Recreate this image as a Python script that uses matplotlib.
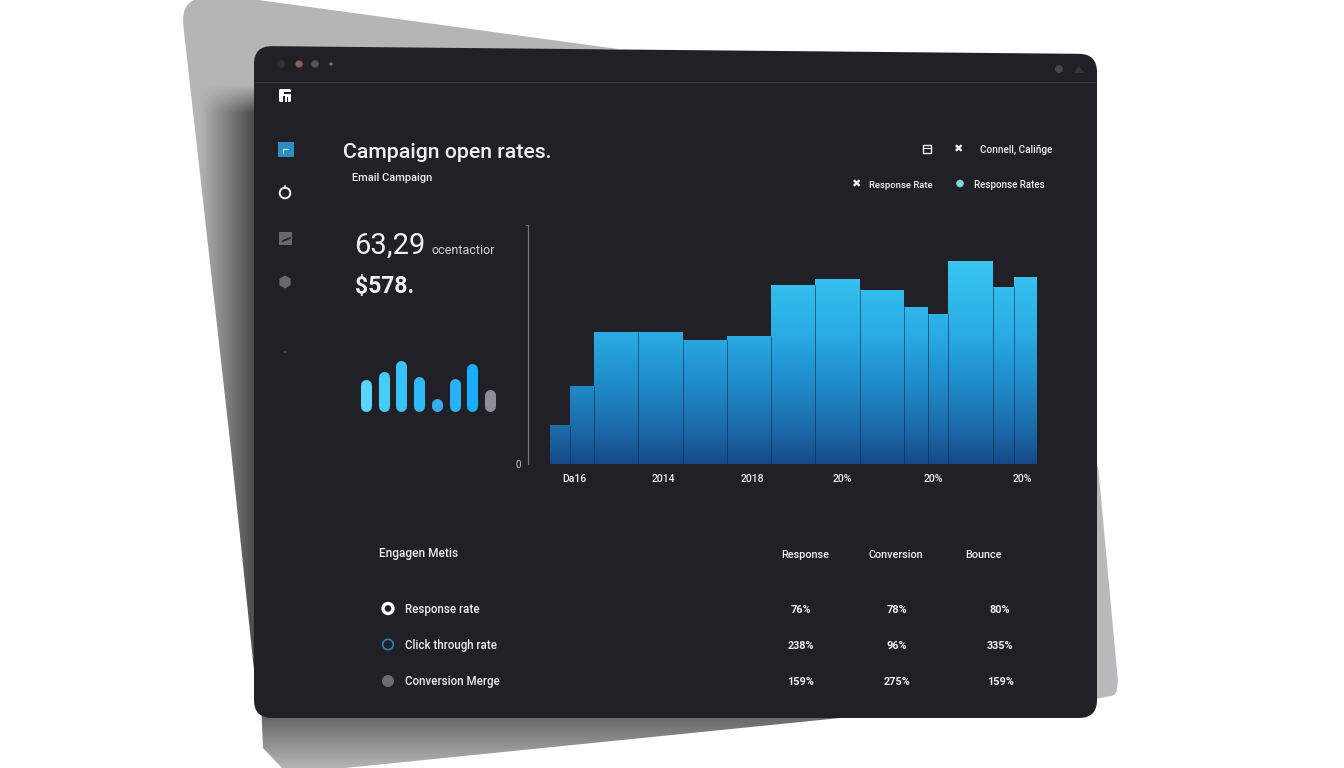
import numpy as np
import matplotlib
matplotlib.use("Agg")
import matplotlib.pyplot as plt
from matplotlib.colors import LinearSegmentedColormap
from matplotlib.patches import Circle, Polygon, PathPatch, Rectangle, RegularPolygon
from matplotlib.path import Path

plt.rcParams['font.family'] = ['Roboto', 'DejaVu Sans']

# main chart
bar_widths = [0.45, 0.55, 1, 1, 1, 1, 1, 1, 1, 0.55, 0.45, 1, 0.48, 0.52]
bar_values = [16.3, 32.6, 55.1, 55.1, 51.9, 53.4, 74.9, 77.3, 72.7, 65.8, 62.6, 84.9, 73.9, 78.1]
tick_pos = [0.55, 2.56, 4.57, 6.6, 8.66, 10.67]
tick_labels = ['Da16', '2014', '2018', '20%', '20%', '20%']

# small bars on the left
mini_values = [31.7, 40, 51.7, 35, 13.4, 32.7, 48.4, 22.4]
mini_colors = ['#5cd5fb', '#45cdfa', '#38c4fa', '#2fb9f8', '#35aef0', '#2ab2f6', '#18aefb', '#8f8e98']

# table
table_metrics = ['Response rate', 'Click through rate', 'Conversion Merge']
table_columns = ['Response', 'Conversion', 'Bounce']
col_response = ['76%', '238%', '159%']
col_conversion = ['78%', '96%', '275%']
col_bounce = ['80%', '335%', '159%']

CARD = '#212026'
TXT = '#f0f0f2'

W, H = 1344, 768


def rounded_poly(pts, radii):
    # polygon with quadratic rounded corners, one radius per corner
    pts = np.array(pts, dtype=float)
    n = len(pts)
    if np.isscalar(radii):
        radii = [radii] * n
    verts, codes = [], []
    for i in range(n):
        p, a, b = pts[i], pts[i - 1], pts[(i + 1) % n]
        r = max(radii[i], 0.01)
        p1 = p + (a - p) / np.linalg.norm(a - p) * r
        p2 = p + (b - p) / np.linalg.norm(b - p) * r
        verts += [p1, p, p2]
        codes += [Path.LINETO if i else Path.MOVETO, Path.CURVE3, Path.CURVE3]
    verts.append(verts[0])
    codes.append(Path.CLOSEPOLY)
    return Path(verts, codes)


fig = plt.figure(figsize=(W / 100, H / 100), dpi=100, facecolor='white')
bg = fig.add_axes([0, 0, 1, 1])
bg.set_xlim(0, W)
bg.set_ylim(H, 0)
bg.axis('off')

# grey sheet behind the card, dark shadow towards the card
xx, yy = np.meshgrid(np.arange(W), np.arange(H))
fade_y = np.clip((yy - 84) / 28, 0, 1)
fade_x = np.clip((xx - 198) / 56, 0, 1)
shade = 0.71 - 0.42 * fade_y * fade_x
sheet = bg.imshow(shade, cmap='gray', vmin=0, vmax=1, extent=(0, W, H, 0), aspect='auto', zorder=1)
sheet.set_clip_path(PathPatch(rounded_poly([(180, -4), (258, 0), (618, 49), (300, 60), (254, 670), (231, 450)],
                                           [30, 0, 0, 0, 0, 0]),
                              transform=bg.transData))

# grey strip under the card
yy2 = np.clip((yy - 718) / 50, 0, 1)
under = bg.imshow(0.41 + 0.3 * yy2, cmap='gray', vmin=0, vmax=1, extent=(0, W, H, 0), aspect='auto', zorder=1)
under.set_clip_path(PathPatch(Path([(261, 700), (263, 748), (282, 768), (345, 768), (850, 717), (261, 700)], closed=True),
                              transform=bg.transData))

# light sheet on the right
bg.add_patch(PathPatch(rounded_poly([(1090, 460), (1098, 465), (1118, 682), (1116, 695), (1090, 700)], 5),
                       fc='#b9b8bb', ec='none', zorder=1))

# card
bg.add_patch(PathPatch(rounded_poly([(254, 46), (1097, 54), (1097, 718), (254, 718)], 18),
                       fc=CARD, ec='none', zorder=2))
bg.plot([255, 1096], [82, 82], color='#38373d', lw=0.9, zorder=3)

# window buttons
for x, r, c in [(281, 4, '#323137'), (299, 3.6, '#87604f'), (315, 3.8, '#55545a'), (331, 1.6, '#2f9a8a'),
                (1059, 4, '#47464c')]:
    bg.add_patch(Circle((x, 64 if x < 1000 else 69), r, fc=c, ec='none', zorder=3))
bg.add_patch(Polygon([(1074, 73), (1079, 66), (1084, 73)], fc='#37363c', ec='none', zorder=3))

# logo
bg.add_patch(PathPatch(rounded_poly([(279, 89), (291, 89), (291, 102), (279, 102)], 1.5), fc='white', ec='none', zorder=3))
bg.add_patch(Rectangle((284, 92), 7, 1.6, fc=CARD, zorder=4))
bg.add_patch(Rectangle((283, 96), 2, 6, fc=CARD, zorder=4))
bg.add_patch(Rectangle((287, 97), 1.4, 5, fc=CARD, zorder=4))

# sidebar
bg.add_patch(Rectangle((278, 142), 16, 15, fc='#2b8fc4', ec='none', zorder=3))
bg.plot([283, 283, 288], [153, 149, 149], color='#cfe9f5', lw=0.8, zorder=4)
bg.add_patch(Circle((285, 193), 5.3, fc='none', ec='#f2f2f2', lw=1.4, zorder=3))
bg.plot([285, 285], [186, 188], color='#f2f2f2', lw=1.2, zorder=3)
bg.add_patch(Rectangle((279, 232), 13, 13, fc='#68676b', ec='none', zorder=3))
bg.plot([283, 290], [241, 238], color=CARD, lw=1.2, zorder=4)
bg.add_patch(RegularPolygon((285, 282), 6, radius=6.5, fc='#68676b', ec='none', zorder=3))
bg.add_patch(Circle((285, 352), 1.2, fc='#4a494f', ec='none', zorder=3))

# header text
bg.text(343, 153, 'Campaign open rates.', color=TXT, fontsize=15.3, fontweight='medium', va='center', zorder=5)
bg.text(352, 178, 'Email Campaign', color=TXT, fontsize=8, fontweight='medium', va='center', zorder=5)
bg.text(354, 246, '63,29', color=TXT, fontsize=21, va='center', zorder=5)
bg.text(431, 250, 'ocentactior', color='#d4d4d8', fontsize=9, va='center', zorder=5)
bg.text(354.5, 287, '$578.', color=TXT, fontsize=16.5, fontweight='bold', va='center', zorder=5)

# top right legend
bg.add_patch(Rectangle((922.5, 145), 8.5, 8, fc='none', ec=TXT, lw=1, zorder=5))
bg.plot([922.5, 931], [148, 148], color=TXT, lw=0.8, zorder=5)
bg.text(958, 149, '✖', color=TXT, fontsize=8, ha='center', va='center', family=['DejaVu Sans'], zorder=5)
bg.text(980, 150, 'Connell, Caliñge', color=TXT, fontsize=7.2, fontweight='medium', va='center', zorder=5)
bg.text(856, 184, '✖', color=TXT, fontsize=8, ha='center', va='center', family=['DejaVu Sans'], zorder=5)
bg.text(869, 185, 'Response Rate', color=TXT, fontsize=6.8, fontweight='medium', va='center', zorder=5)
bg.add_patch(Circle((960, 183.5), 3.8, fc='#7fd8d8', ec='none', zorder=5))
bg.text(974, 185, 'Response Rates', color=TXT, fontsize=7, fontweight='medium', va='center', zorder=5)

# table text
bg.text(379, 554, 'Engagen Metis', color=TXT, fontsize=8.6, fontweight='medium', va='center', zorder=5)
for x, name in zip([805, 896, 984], table_columns):
    bg.text(x, 554.5, name, color=TXT, fontsize=7.8, fontweight='medium', ha='center', va='center', zorder=5)
row_y = [610, 646, 682]
for y, name in zip(row_y, table_metrics):
    bg.text(405, y, name, color=TXT, fontsize=8.3, fontweight='medium', va='center', zorder=5)
for x, col in zip([801, 897, 1000], [col_response, col_conversion, col_bounce]):
    for y, val in zip(row_y, col):
        bg.text(x, y, val, color=TXT, fontsize=7.8, fontweight='bold', ha='center', va='center', zorder=5)
bg.add_patch(Circle((388, 608.5), 5, fc=CARD, ec='white', lw=2.4, zorder=5))
bg.add_patch(Circle((388, 644.5), 5.2, fc='none', ec='#2a7fb8', lw=1.2, zorder=5))
bg.add_patch(Circle((388, 681), 6, fc='#6d6c72', ec='none', zorder=5))

# main bar chart
x0, x1, ytop, ybot = 528, 1037, 225, 464
ax = fig.add_axes([x0 / W, 1 - ybot / H, (x1 - x0) / W, (ybot - ytop) / H])
ax.patch.set_alpha(0)
unit = (x1 - 549.6) / sum(bar_widths)

lefts = np.concatenate([[0], np.cumsum(bar_widths)[:-1]])
bars = ax.bar(lefts, bar_values, bar_widths, align='edge', facecolor='none', edgecolor='none', zorder=3)

grad = LinearSegmentedColormap.from_list('bars', [(0, '#164a86'), (0.16, '#1b6aa8'), (0.42, '#2190cf'),
                                                  (0.62, '#29ace4'), (1, '#3cc9f6')])
im = ax.imshow(np.linspace(1, 0, 256)[:, None], cmap=grad, extent=(lefts[0], sum(bar_widths), 0, 88),
               aspect='auto', zorder=2)
ax.set_xlim(-(549.6 - x0) / unit, sum(bar_widths))
ax.set_ylim(0, 100)
clip = Path.make_compound_path(*[b.get_path().transformed(b.get_patch_transform()) for b in bars])
im.set_clip_path(PathPatch(clip, transform=ax.transData))

# thin dark lines where two bars meet
seams = lefts[1:]
seam_tops = np.minimum(bar_values[:-1], bar_values[1:])
ax.vlines(seams, 0, seam_tops, colors='#0c2a4c', linewidth=0.7, alpha=0.6, zorder=3)

for s in ['top', 'right', 'bottom']:
    ax.spines[s].set_visible(False)
ax.spines['left'].set_color('#77767b')
ax.spines['left'].set_linewidth(0.9)
ax.set_xticks(tick_pos, tick_labels)
ax.set_yticks([0], ['0'])
ax.set_yticks([100], minor=True)
ax.tick_params(axis='x', length=0, colors=TXT, labelsize=7.6, pad=7)
ax.tick_params(axis='y', length=0, colors='#c8c8cc', labelsize=7, pad=5)
ax.tick_params(axis='y', which='minor', length=2, color='#77767b')
for lab in ax.get_xticklabels():
    lab.set_fontweight('medium')

# small rounded bars
mx0, mx1, mtop, mbot = 350, 506, 350, 411.7
mini = fig.add_axes([mx0 / W, 1 - mbot / H, (mx1 - mx0) / W, (mbot - mtop) / H])
mini.patch.set_alpha(0)
step = (490 - 366) / 7
mini.set_xlim(-(366 - mx0) / step, (mx1 - 366) / step)
mini.set_ylim(0, mbot - mtop)
mini.axis('off')
cap = 5.5
mini.vlines(np.arange(len(mini_values)), cap, np.array(mini_values) - cap, colors=mini_colors,
            linewidth=2 * cap * 0.72, capstyle='round', clip_on=False)

fig.savefig('out.png', dpi=100, facecolor='white')
